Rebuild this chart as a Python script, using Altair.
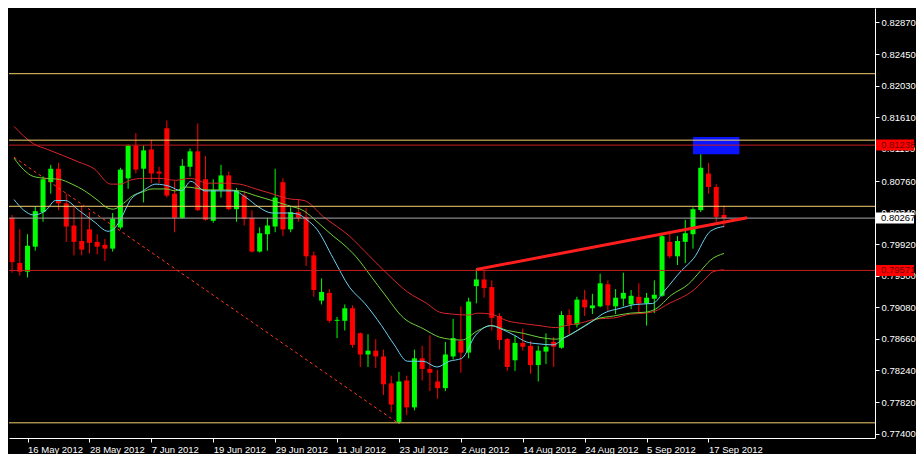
import json
import altair as alt
import pandas as pd

# ---------------- data ----------------
bar_index = list(range(-1, 92))
opens = [0.80271, 0.79669, 0.79554, 0.79887, 0.80347, 0.80745, 0.80924, 0.80463, 0.80168, 0.79963,
         0.80117, 0.79951, 0.79912, 0.79861, 0.80143, 0.80796, 0.81232, 0.80924, 0.81181, 0.80886,
         0.81462, 0.80592, 0.80271, 0.80950, 0.81155, 0.80784, 0.80232, 0.80643, 0.80835, 0.80386,
         0.80566, 0.80271, 0.79822, 0.80053, 0.80155, 0.80745, 0.80117, 0.80347, 0.80284, 0.79771,
         0.79170, 0.79272, 0.78901, 0.78901, 0.79068, 0.78735, 0.78453, 0.78504, 0.78427, 0.78069,
         0.77556, 0.78107, 0.77749, 0.78402, 0.78261, 0.78094, 0.78005, 0.78427, 0.78632, 0.78478,
         0.79362, 0.79451, 0.79349, 0.78965, 0.78658, 0.78376, 0.78607, 0.78568, 0.78312, 0.78491,
         0.78620, 0.78543, 0.78978, 0.78850, 0.79183, 0.79068, 0.79093, 0.79387, 0.79093, 0.79195,
         0.79119, 0.79221, 0.79132, 0.79195, 0.79234, 0.79951, 0.79759, 0.79951, 0.80053, 0.80373,
         0.80860, 0.80681, 0.80310]
highs = [0.80309, 0.80117, 0.80053, 0.80424, 0.80822, 0.80976, 0.81001, 0.80592, 0.80437, 0.80437,
         0.80347, 0.80053, 0.79989, 0.80335, 0.80937, 0.81245, 0.81398, 0.81232, 0.81308, 0.80950,
         0.81564, 0.80758, 0.81052, 0.81193, 0.81526, 0.81091, 0.80784, 0.80976, 0.80886, 0.80668,
         0.80630, 0.80373, 0.80143, 0.80271, 0.80924, 0.80796, 0.80411, 0.80514, 0.80399, 0.79822,
         0.79464, 0.79323, 0.78952, 0.79119, 0.79106, 0.78747, 0.78722, 0.78658, 0.78517, 0.78171,
         0.78222, 0.78171, 0.78517, 0.78568, 0.78709, 0.78248, 0.78620, 0.78927, 0.79093, 0.79208,
         0.79592, 0.79567, 0.79439, 0.79003, 0.78671, 0.78709, 0.78799, 0.78632, 0.78568, 0.78735,
         0.78684, 0.79029, 0.79055, 0.79221, 0.79311, 0.79260, 0.79528, 0.79439, 0.79323, 0.79541,
         0.79311, 0.79400, 0.79272, 0.79439, 0.80053, 0.80066, 0.80027, 0.80245, 0.80411, 0.81116,
         0.81001, 0.80719, 0.80437]
lows = [0.79541, 0.79503, 0.79477, 0.79835, 0.80219, 0.80592, 0.80373, 0.79951, 0.79771, 0.79771,
        0.79797, 0.79784, 0.79695, 0.79822, 0.80117, 0.80656, 0.80860, 0.80475, 0.80732, 0.80732,
        0.80540, 0.80079, 0.80258, 0.80822, 0.80360, 0.80232, 0.80206, 0.80540, 0.80373, 0.80219,
        0.80168, 0.79810, 0.79810, 0.79835, 0.80079, 0.80027, 0.80079, 0.80219, 0.79631, 0.79221,
        0.79119, 0.78875, 0.78671, 0.78773, 0.78543, 0.78287, 0.78287, 0.78274, 0.77915, 0.77684,
        0.77530, 0.77646, 0.77710, 0.78107, 0.77966, 0.77864, 0.77966, 0.78389, 0.78210, 0.78402,
        0.79132, 0.79208, 0.78773, 0.78517, 0.78235, 0.78235, 0.78504, 0.78197, 0.78094, 0.78325,
        0.78287, 0.78530, 0.78722, 0.78812, 0.78965, 0.78991, 0.79080, 0.79029, 0.78991, 0.79093,
        0.79055, 0.79016, 0.78837, 0.79003, 0.79221, 0.79733, 0.79643, 0.79669, 0.79861, 0.80347,
        0.80592, 0.80219, 0.80143]
closes = [0.79682, 0.79554, 0.79899, 0.80360, 0.80784, 0.80924, 0.80463, 0.80155, 0.79951, 0.79848,
          0.79938, 0.79887, 0.79861, 0.80258, 0.80912, 0.81232, 0.80912, 0.81168, 0.80860, 0.80860,
          0.80566, 0.80271, 0.80963, 0.81155, 0.80373, 0.80245, 0.80643, 0.80835, 0.80386, 0.80630,
          0.80258, 0.79822, 0.80066, 0.80168, 0.80540, 0.80117, 0.80347, 0.80271, 0.79759, 0.79311,
          0.79285, 0.78901, 0.78914, 0.79068, 0.78581, 0.78453, 0.78504, 0.78427, 0.78056, 0.77787,
          0.78094, 0.77749, 0.78402, 0.78261, 0.78210, 0.78005, 0.78453, 0.78671, 0.78478, 0.79157,
          0.79451, 0.79336, 0.78940, 0.78645, 0.78287, 0.78607, 0.78556, 0.78312, 0.78504, 0.78556,
          0.78556, 0.78978, 0.78850, 0.79183, 0.79080, 0.79106, 0.79400, 0.79106, 0.79208, 0.79272,
          0.79234, 0.79132, 0.79208, 0.79247, 0.80027, 0.79759, 0.79963, 0.80066, 0.80386, 0.80937,
          0.80681, 0.80284, 0.80267]

# moving averages (slow red, medium green, fast cyan), read at bar positions
ma_slow_i = [-0.75, 1.75, 3.6, 5.5, 7.6, 9.6, 11.75, 13, 14.25, 15.9, 18, 20.1, 22.1, 24.25, 26.4, 28.4,
             30.5, 32.6, 34.6, 36.75, 39.25, 42.6, 45.1, 47.6, 50.1, 52.6, 54.25, 55.9, 58, 59.25, 60.9,
             63, 65.1, 67.1, 69.25, 70.5, 72.6, 74.6, 76.75, 78.9, 80.9, 82.1, 83.9, 85.5, 87.1, 88.4,
             89.6, 91]
ma_slow_p = [0.81487, 0.81257, 0.81180, 0.81103, 0.81014, 0.80924, 0.80719, 0.80719, 0.80770, 0.80796,
             0.80796, 0.80770, 0.80796, 0.80732, 0.80732, 0.80719, 0.80655, 0.80591, 0.80527, 0.80501,
             0.80284, 0.80028, 0.79772, 0.79516, 0.79285, 0.79132, 0.79016, 0.78990, 0.78978, 0.79003,
             0.78990, 0.78901, 0.78863, 0.78837, 0.78811, 0.78837, 0.78875, 0.78927, 0.78939, 0.78990,
             0.79003, 0.79029, 0.79132, 0.79208, 0.79311, 0.79439, 0.79554, 0.79579]
ma_mid_i = [-0.75, 0.5, 1.75, 3.4, 5.1, 6.75, 8.4, 10.1, 11.4, 12.1, 13.4, 14.6, 15.9, 17.1, 18.9, 20.1,
            21.4, 22.6, 24.25, 26.4, 28.4, 30.5, 32.6, 34.6, 36.75, 38.4, 40.5, 41.75, 43.4, 45.5, 47.1,
            49.6, 52.1, 54.25, 55.5, 57.1, 59.25, 60.9, 63, 65.1, 67.1, 69.25, 70.5, 72.6, 74.6, 76.75,
            78.9, 80.9, 82.1, 84.25, 86.4, 88, 89.25, 91]
ma_mid_p = [0.81065, 0.80911, 0.80821, 0.80796, 0.80783, 0.80719, 0.80629, 0.80501, 0.80399, 0.80386,
            0.80463, 0.80565, 0.80617, 0.80655, 0.80655, 0.80629, 0.80681, 0.80668, 0.80642, 0.80642,
            0.80629, 0.80565, 0.80501, 0.80437, 0.80361, 0.80220, 0.80028, 0.79925, 0.79759, 0.79477,
            0.79259, 0.78939, 0.78798, 0.78683, 0.78657, 0.78645, 0.78773, 0.78837, 0.78773, 0.78734,
            0.78683, 0.78657, 0.78683, 0.78811, 0.78927, 0.78965, 0.79003, 0.79016, 0.79054, 0.79247,
            0.79388, 0.79567, 0.79707, 0.79797]
ma_fast_i = [-0.75, 0.5, 1.75, 3.4, 4.6, 5.9, 7.6, 9.6, 11.4, 12.1, 13, 14.25, 15.9, 17.6, 19.25, 20.9,
             22.1, 23.9, 25.5, 27.6, 29.25, 30.9, 32.6, 34.6, 35.9, 37.1, 38.4, 40.5, 42.6, 44.6, 46.75,
             48.4, 50.1, 52.1, 53.9, 55.5, 57.1, 58.9, 60.9, 62.1, 63.9, 65.5, 67.1, 68.9, 70.5, 72.1,
             73.9, 75.5, 77.6, 79.6, 81.75, 83.4, 85.5, 87.1, 89.25, 91]
ma_fast_p = [0.80514, 0.80373, 0.80309, 0.80373, 0.80501, 0.80501, 0.80373, 0.80220, 0.80092, 0.80117,
             0.80245, 0.80501, 0.80629, 0.80719, 0.80693, 0.80629, 0.80757, 0.80629, 0.80629, 0.80629,
             0.80540, 0.80412, 0.80335, 0.80335, 0.80322, 0.80245, 0.80117, 0.79733, 0.79349, 0.79131,
             0.78837, 0.78581, 0.78363, 0.78363, 0.78286, 0.78363, 0.78401, 0.78709, 0.78837, 0.78798,
             0.78709, 0.78619, 0.78594, 0.78581, 0.78683, 0.78773, 0.78888, 0.79003, 0.79067, 0.79119,
             0.79131, 0.79311, 0.79567, 0.79733, 0.80092, 0.80156]

yellow_levels = [0.82188, 0.81304, 0.80424, 0.77544]
red_levels = [0.81238, 0.79571]
current_price = [0.80267]

trend_i = [59, 94]
trend_p = [0.79583, 0.80272]
dash_i = [-0.75, 49]
dash_p = [0.81077, 0.77531]
zone_i = [87, 93]
zone_p = [0.81346, 0.81116]

tick_index = [1, 9, 17, 25, 33, 41, 49, 57, 65, 73, 81, 89]
tick_labels = ["16 May 2012", "28 May 2012", "7 Jun 2012", "19 Jun 2012", "29 Jun 2012",
               "11 Jul 2012", "23 Jul 2012", "2 Aug 2012", "14 Aug 2012", "24 Aug 2012",
               "5 Sep 2012", "17 Sep 2012"]
price_ticks = [0.77400, 0.77820, 0.78240, 0.78660, 0.79080, 0.79500, 0.79920, 0.80340,
               0.80760, 0.81190, 0.81610, 0.82030, 0.82450, 0.82870]

x_domain = [-0.75, 109.875]
y_domain = [0.77342, 0.83062]

# ---------------- chart ----------------
W, H = 866, 430
FONT = "Liberation Sans"
FS = 9.5

xs = alt.Scale(domain=x_domain, nice=False, zero=False)
ys = alt.Scale(domain=y_domain, nice=False, zero=False)

label_expr = "%s[indexof(%s, datum.value)]" % (json.dumps(tick_labels), json.dumps(tick_index))
xaxis = alt.Axis(orient="bottom", values=tick_index, labelExpr=label_expr, title="",
                 grid=False, tickSize=4, tickColor="white", domainColor="white",
                 labelColor="white", labelFont=FONT, labelFontSize=FS, labelAlign="left",
                 labelBaseline="top", labelPadding=2, labelFlush=False, labelOverlap=False)
yaxis = alt.Axis(orient="right", values=price_ticks, format=".5f", title="", grid=False,
                 tickSize=4, tickColor="white", domainColor="white", labelColor="white",
                 labelFont=FONT, labelFontSize=FS, labelAlign="left", labelBaseline="middle",
                 labelPadding=2, labelFlush=False, labelOverlap=False)


def X(f):
    return alt.X(f, type="quantitative", scale=xs, axis=xaxis)


def X2(f):
    return alt.X2(f)


def Y(f):
    return alt.Y(f, type="quantitative", scale=ys, axis=yaxis)


candles = pd.DataFrame({"i": bar_index, "o": opens, "h": highs, "l": lows, "c": closes})
assert len({len(bar_index), len(opens), len(highs), len(lows), len(closes)}) == 1
candle_color = alt.condition("datum.c >= datum.o", alt.value("#00ff00"), alt.value("#ff0000"))

zone = alt.Chart(pd.DataFrame({"i": [zone_i[0]], "i2": [zone_i[1]],
                               "p": [zone_p[0]], "p2": [zone_p[1]]})).mark_rect(
    color="#0a14ff").encode(x=X("i"), x2="i2", y=Y("p"), y2="p2")

wicks = alt.Chart(candles).mark_rule(strokeWidth=1, clip=True).encode(
    x=X("i"), y=Y("l"), y2="h", color=candle_color)
bodies = alt.Chart(candles).mark_bar(size=5, clip=True).encode(
    x=X("i"), y=Y("o"), y2="c", color=candle_color)


def ma_layer(ii, pp, col):
    return alt.Chart(pd.DataFrame({"i": ii, "p": pp})).mark_line(
        color=col, strokeWidth=1, interpolate="monotone").encode(x=X("i"), y=Y("p"))


ma_slow = ma_layer(ma_slow_i, ma_slow_p, "#d8262a")
ma_mid = ma_layer(ma_mid_i, ma_mid_p, "#6fd23a")
ma_fast = ma_layer(ma_fast_i, ma_fast_p, "#6cd0f0")

yellow = alt.Chart(pd.DataFrame({"p": yellow_levels})).mark_rule(
    color="#f2cf6e", strokeWidth=1).encode(y=Y("p"))
redh = alt.Chart(pd.DataFrame({"p": red_levels})).mark_rule(
    color="#c81e1e", strokeWidth=1).encode(y=Y("p"))
gray = alt.Chart(pd.DataFrame({"p": current_price})).mark_rule(
    color="#a8a8a8", strokeWidth=1).encode(y=Y("p"))

dashed = alt.Chart(pd.DataFrame({"i": dash_i, "p": dash_p})).mark_line(
    color="#ff3a22", strokeWidth=1, strokeDash=[3, 3]).encode(x=X("i"), y=Y("p"))
trend = alt.Chart(pd.DataFrame({"i": trend_i, "p": trend_p})).mark_line(
    color="#ff1e1e", strokeWidth=3).encode(x=X("i"), y=Y("p"))

red_box = alt.Chart(pd.DataFrame({"p": red_levels})).mark_tick(
    orient="horizontal", size=38, thickness=11, color="#ff0000", opacity=1).encode(
    x=alt.value(W + 20), y=Y("p"))
red_txt = alt.Chart(pd.DataFrame({"p": red_levels})).mark_text(
    align="left", baseline="middle", font=FONT, fontSize=FS, color="#700000").encode(
    x=alt.value(W + 6), y=Y("p"), text=alt.Text("p:Q", format=".5f"))
white_box = alt.Chart(pd.DataFrame({"p": current_price})).mark_tick(
    orient="horizontal", size=38, thickness=11, color="#ffffff", opacity=1).encode(
    x=alt.value(W + 20), y=Y("p"))
white_txt = alt.Chart(pd.DataFrame({"p": current_price})).mark_text(
    align="left", baseline="middle", font=FONT, fontSize=FS, color="#000000").encode(
    x=alt.value(W + 6), y=Y("p"), text=alt.Text("p:Q", format=".5f"))

chart = alt.layer(
    zone, wicks, bodies, ma_slow, ma_mid, ma_fast, yellow, redh, gray, dashed, trend,
    red_box, red_txt, white_box, white_txt
).properties(
    width=W, height=H, background="black", padding=0
).configure_view(strokeWidth=0)

chart.save("out.html", embed_options={"renderer": "svg", "actions": False})
